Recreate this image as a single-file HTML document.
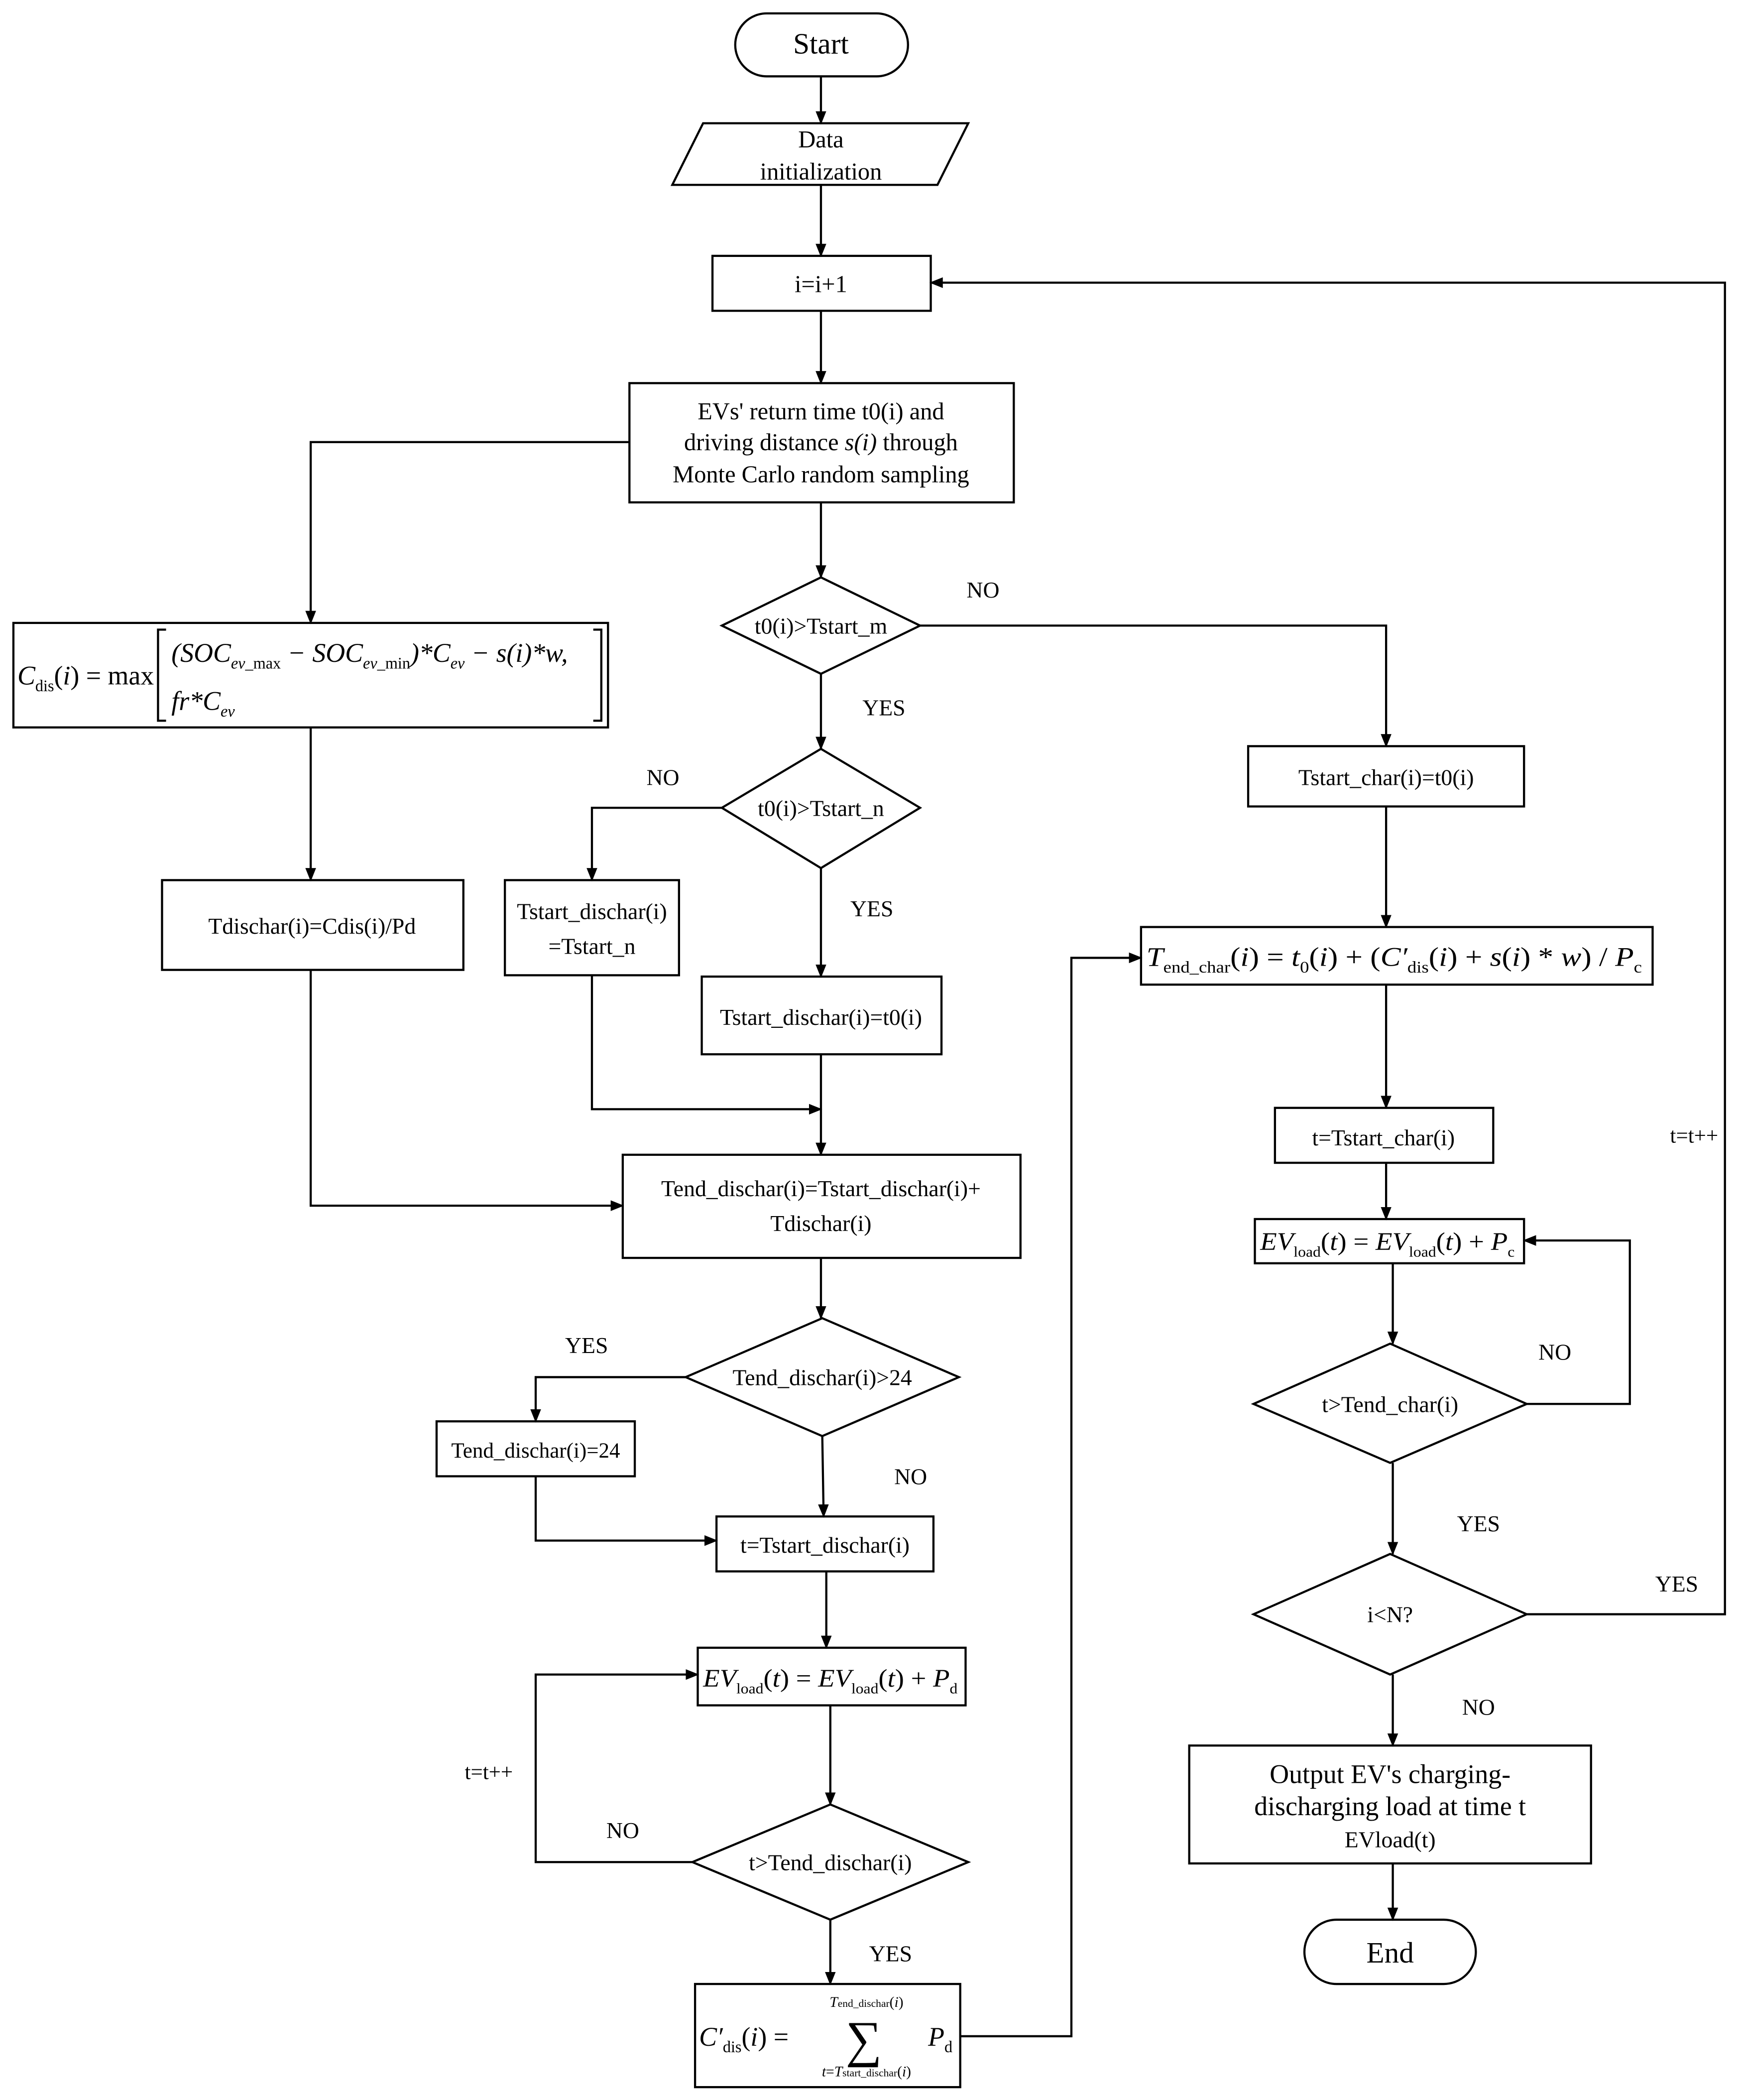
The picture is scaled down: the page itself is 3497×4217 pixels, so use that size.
<!DOCTYPE html>
<html><head><meta charset="utf-8"><style>
html,body{margin:0;padding:0;background:#fff;}
svg{display:block;}
text{font-family:"Liberation Serif",serif;fill:#000;}
</style></head><body>
<svg width="3497" height="4217" viewBox="0 0 1300 1567.6" preserveAspectRatio="none" xmlns="http://www.w3.org/2000/svg">
<defs><marker id="a" markerWidth="10" markerHeight="10" refX="9" refY="5" orient="auto" markerUnits="userSpaceOnUse"><path d="M0,1 L10,5 L0,9 z" fill="#000"/></marker></defs>
<rect width="1300" height="1567.6" fill="#fff"/>
<g fill="none" stroke="#000" stroke-width="1.6">
<rect x="549" y="10" width="129" height="47" rx="23.5"/>
<polygon points="525,92 723,92 700,138 502,138"/>
<rect x="532" y="191" width="163" height="41"/>
<rect x="470" y="286" width="287" height="89"/>
<rect x="10" y="465" width="444" height="78"/>
<polygon points="613,431 687,467 613,503 539,467"/>
<polygon points="613,559 687,603 613,648 539,603"/>
<rect x="377" y="657" width="130" height="71"/>
<rect x="524" y="729" width="179" height="58"/>
<rect x="121" y="657" width="225" height="67"/>
<rect x="465" y="862" width="297" height="77"/>
<polygon points="614,984 716,1028 614,1072 512,1028"/>
<rect x="326" y="1061" width="148" height="41"/>
<rect x="535" y="1132" width="162" height="41"/>
<rect x="521" y="1230" width="200" height="43"/>
<polygon points="620,1347 723,1390 620,1433 517,1390"/>
<rect x="519" y="1481" width="198" height="77"/>
<rect x="932" y="557" width="206" height="45"/>
<rect x="852" y="692" width="382" height="43"/>
<rect x="952" y="827" width="163" height="41"/>
<rect x="937" y="910" width="201" height="33"/>
<polygon points="1038,1003 1140,1048 1038,1092 936,1048"/>
<polygon points="1038,1160 1140,1205 1038,1250 936,1205"/>
<rect x="888" y="1303" width="300" height="88"/>
<rect x="974" y="1433" width="128" height="48" rx="24"/>
<path d="M613,57V92" marker-end="url(#a)"/>
<path d="M613,138V191" marker-end="url(#a)"/>
<path d="M613,232V286" marker-end="url(#a)"/>
<path d="M470,330H232V465" marker-end="url(#a)"/>
<path d="M613,375V431" marker-end="url(#a)"/>
<path d="M687,467H1035V557" marker-end="url(#a)"/>
<path d="M613,503V559" marker-end="url(#a)"/>
<path d="M539,603H442V657" marker-end="url(#a)"/>
<path d="M613,648V729" marker-end="url(#a)"/>
<path d="M613,787V862" marker-end="url(#a)"/>
<path d="M442,728V828H613" marker-end="url(#a)"/>
<path d="M232,543V657" marker-end="url(#a)"/>
<path d="M232,724V900H465" marker-end="url(#a)"/>
<path d="M613,939V984" marker-end="url(#a)"/>
<path d="M512,1028H400V1061" marker-end="url(#a)"/>
<path d="M400,1102V1150H535" marker-end="url(#a)"/>
<path d="M614,1072L615,1132" marker-end="url(#a)"/>
<path d="M617,1173V1230" marker-end="url(#a)"/>
<path d="M620,1273V1347" marker-end="url(#a)"/>
<path d="M517,1390H400V1250H521" marker-end="url(#a)"/>
<path d="M620,1433V1481" marker-end="url(#a)"/>
<path d="M717,1520H800V715H852" marker-end="url(#a)"/>
<path d="M1035,602V692" marker-end="url(#a)"/>
<path d="M1035,735V827" marker-end="url(#a)"/>
<path d="M1035,868V910" marker-end="url(#a)"/>
<path d="M1040,943V1003" marker-end="url(#a)"/>
<path d="M1140,1048H1217V926H1138" marker-end="url(#a)"/>
<path d="M1040,1092V1160" marker-end="url(#a)"/>
<path d="M1140,1205H1288V211H695" marker-end="url(#a)"/>
<path d="M1040,1250V1303" marker-end="url(#a)"/>
<path d="M1040,1391V1433" marker-end="url(#a)"/>
<path d="M124,470H118V538H124"/>
<path d="M443,470H449V538H443"/>
</g>
<g font-size="18" text-anchor="middle">
<text x="613" y="40" font-size="22">Start</text>
<text x="613" y="110">Data</text>
<text x="613" y="134">initialization</text>
<text x="613" y="218">i=i+1</text>
<text x="613" y="313">EVs' return time t0(i) and</text>
<text x="613" y="336">driving distance <tspan font-style="italic">s(i)</tspan> through</text>
<text x="613" y="360">Monte Carlo random sampling</text>
<text x="613" y="473" font-size="17">t0(i)&gt;Tstart_m</text>
<text x="613" y="609" font-size="17">t0(i)&gt;Tstart_n</text>
<text x="442" y="686" font-size="17">Tstart_dischar(i)</text>
<text x="442" y="712" font-size="17">=Tstart_n</text>
<text x="613" y="765" font-size="17">Tstart_dischar(i)=t0(i)</text>
<text x="233" y="697" font-size="17">Tdischar(i)=Cdis(i)/Pd</text>
<text x="613" y="893" font-size="17">Tend_dischar(i)=Tstart_dischar(i)+</text>
<text x="613" y="919" font-size="17">Tdischar(i)</text>
<text x="614" y="1034" font-size="17">Tend_dischar(i)&gt;24</text>
<text x="400" y="1088" font-size="16">Tend_dischar(i)=24</text>
<text x="616" y="1159" font-size="17">t=Tstart_dischar(i)</text>
<text x="620" y="1396" font-size="17">t&gt;Tend_dischar(i)</text>
<text x="1035" y="586" font-size="17">Tstart_char(i)=t0(i)</text>
<text x="1033" y="855" font-size="17">t=Tstart_char(i)</text>
<text x="1038" y="1054" font-size="17">t&gt;Tend_char(i)</text>
<text x="1038" y="1211" font-size="17">i&lt;N?</text>
<text x="1038" y="1331" font-size="20">Output EV's charging-</text>
<text x="1038" y="1355" font-size="20">discharging load at time t</text>
<text x="1038" y="1379" font-size="17">EVload(t)</text>
<text x="1038" y="1465" font-size="22">End</text>
<text x="734" y="446" font-size="17">NO</text>
<text x="660" y="534" font-size="17">YES</text>
<text x="495" y="586" font-size="17">NO</text>
<text x="651" y="684" font-size="17">YES</text>
<text x="438" y="1010" font-size="17">YES</text>
<text x="680" y="1108" font-size="17">NO</text>
<text x="465" y="1372" font-size="17">NO</text>
<text x="365" y="1328" font-size="16">t=t++</text>
<text x="665" y="1464" font-size="17">YES</text>
<text x="1161" y="1015" font-size="17">NO</text>
<text x="1104" y="1143" font-size="17">YES</text>
<text x="1252" y="1188" font-size="17">YES</text>
<text x="1265" y="853" font-size="16">t=t++</text>
<text x="1104" y="1280" font-size="17">NO</text>
</g>
<g font-size="20" font-style="italic">
<text x="13" y="511">C<tspan font-size="12" font-style="normal" dy="5">dis</tspan><tspan dy="-5" font-style="normal">(</tspan>i<tspan font-style="normal">) = max</tspan></text>
<text x="128" y="494">(SOC<tspan font-size="12" dy="5">ev_</tspan><tspan font-size="12" font-style="normal">max</tspan><tspan dy="-5"> − SOC</tspan><tspan font-size="12" dy="5">ev_</tspan><tspan font-size="12" font-style="normal">min</tspan><tspan dy="-5">)*C</tspan><tspan font-size="12" dy="5">ev</tspan><tspan dy="-5"> − s(i)*w,</tspan></text>
<text x="128" y="530">fr*C<tspan font-size="12" dy="5">ev</tspan></text>
<text x="856" y="721" textLength="370" lengthAdjust="spacingAndGlyphs">T<tspan font-size="12" font-style="normal" dy="5">end_char</tspan><tspan dy="-5" font-style="normal">(</tspan>i<tspan font-style="normal">) = </tspan>t<tspan font-size="12" font-style="normal" dy="5">0</tspan><tspan dy="-5" font-style="normal">(</tspan>i<tspan font-style="normal">) + (</tspan>C′<tspan font-size="12" font-style="normal" dy="5">dis</tspan><tspan dy="-5" font-style="normal">(</tspan>i<tspan font-style="normal">) + </tspan>s<tspan font-style="normal">(</tspan>i<tspan font-style="normal">) * </tspan>w<tspan font-style="normal">) / </tspan>P<tspan font-size="12" font-style="normal" dy="5">c</tspan></text>
<text x="941" y="933" font-size="19" textLength="190" lengthAdjust="spacingAndGlyphs">EV<tspan font-size="11" font-style="normal" dy="5">load</tspan><tspan dy="-5" font-style="normal">(</tspan>t<tspan font-style="normal">) = </tspan>EV<tspan font-size="11" font-style="normal" dy="5">load</tspan><tspan dy="-5" font-style="normal">(</tspan>t<tspan font-style="normal">) + </tspan>P<tspan font-size="11" font-style="normal" dy="5">c</tspan></text>
<text x="525" y="1259" font-size="19" textLength="190" lengthAdjust="spacingAndGlyphs">EV<tspan font-size="11" font-style="normal" dy="5">load</tspan><tspan dy="-5" font-style="normal">(</tspan>t<tspan font-style="normal">) = </tspan>EV<tspan font-size="11" font-style="normal" dy="5">load</tspan><tspan dy="-5" font-style="normal">(</tspan>t<tspan font-style="normal">) + </tspan>P<tspan font-size="11" font-style="normal" dy="5">d</tspan></text>
<text x="522" y="1527">C′<tspan font-size="12" font-style="normal" dy="5">dis</tspan><tspan dy="-5" font-style="normal">(</tspan>i<tspan font-style="normal">) =</tspan></text>
<text x="645" y="1535" font-size="38" font-style="normal" text-anchor="middle">∑</text>
<text x="647" y="1498" font-size="11" text-anchor="middle">T<tspan font-size="8" font-style="normal">end_dischar</tspan><tspan font-style="normal">(</tspan>i<tspan font-style="normal">)</tspan></text>
<text x="647" y="1550" font-size="11" text-anchor="middle">t<tspan font-style="normal">=</tspan>T<tspan font-size="8" font-style="normal">start_dischar</tspan><tspan font-style="normal">(</tspan>i<tspan font-style="normal">)</tspan></text>
<text x="693" y="1527">P<tspan font-size="12" font-style="normal" dy="5">d</tspan></text>
</g>
</svg>
</body></html>
